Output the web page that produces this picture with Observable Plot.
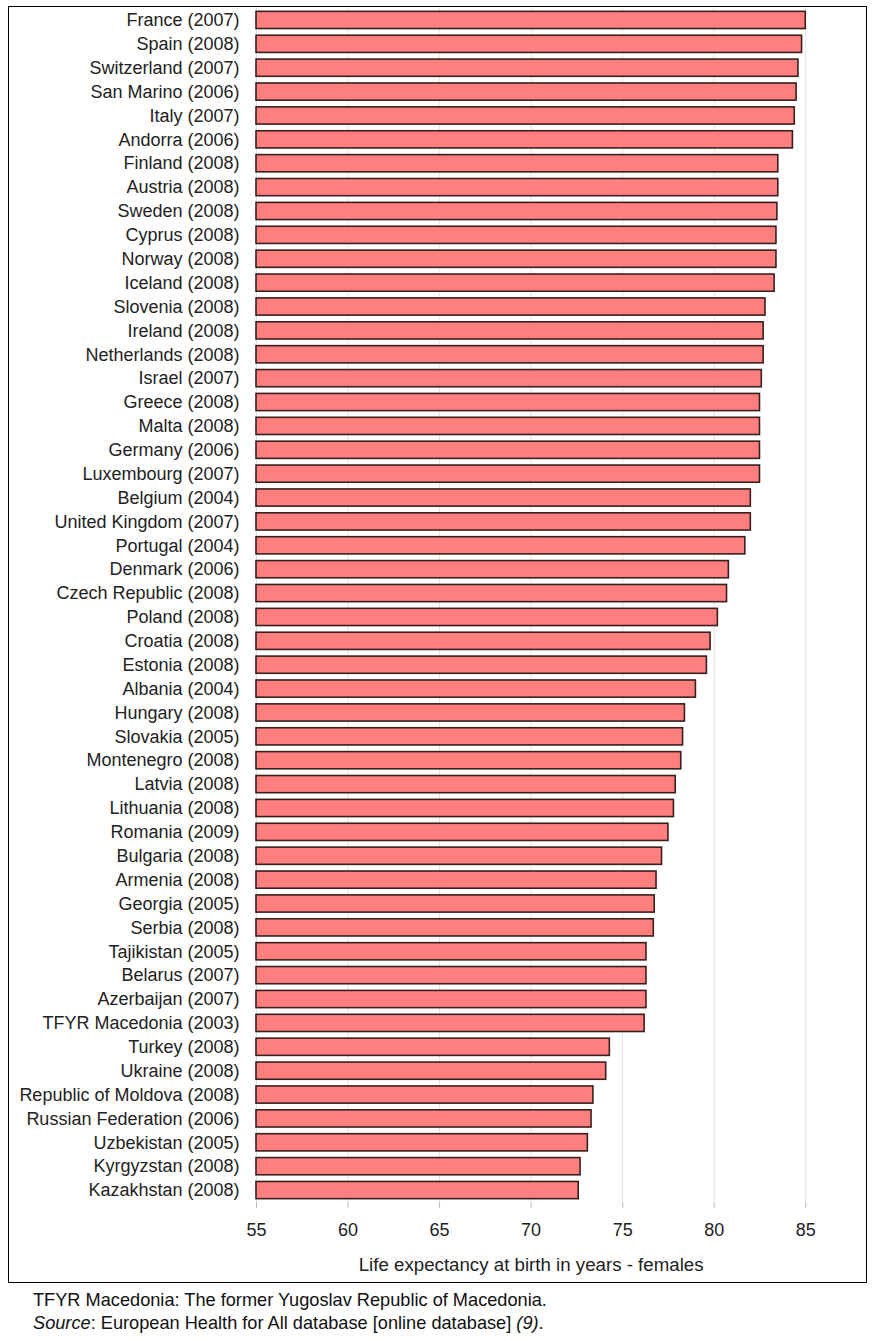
<!DOCTYPE html>
<html>
<head>
<meta charset="utf-8">
<script src="https://cdn.jsdelivr.net/npm/d3@7"></script>
<script src="https://cdn.jsdelivr.net/npm/@observablehq/plot@0.6"></script>
<style>
  body { margin: 0; background: #fff; font-family: "Liberation Sans", Arial, sans-serif; }
  #wrap { position: relative; width: 875px; height: 1341px; }
  #frame { position: absolute; left: 8px; top: 6px; width: 857px; height: 1275px; border: 1px solid #000; pointer-events: none; }
  #chart { position: absolute; left: 0; top: 0; }
  .cap { position: absolute; left: 33px; font-size: 18.2px; line-height: 21px; color: #111; white-space: nowrap; }
</style>
</head>
<body>
<div id="wrap">
  <div id="chart"></div>
  <div id="frame"></div>
  <div class="cap" style="top:1290px">TFYR Macedonia: The former Yugoslav Republic of Macedonia.</div>
  <div class="cap" style="top:1313px"><i>Source</i>: European Health for All database [online database] <i>(9)</i>.</div>
</div>
<script>
const countries = [
  "France (2007)", "Spain (2008)", "Switzerland (2007)", "San Marino (2006)", "Italy (2007)",
  "Andorra (2006)", "Finland (2008)", "Austria (2008)", "Sweden (2008)", "Cyprus (2008)",
  "Norway (2008)", "Iceland (2008)", "Slovenia (2008)", "Ireland (2008)", "Netherlands (2008)",
  "Israel (2007)", "Greece (2008)", "Malta (2008)", "Germany (2006)", "Luxembourg (2007)",
  "Belgium (2004)", "United Kingdom (2007)", "Portugal (2004)", "Denmark (2006)", "Czech Republic (2008)",
  "Poland (2008)", "Croatia (2008)", "Estonia (2008)", "Albania (2004)", "Hungary (2008)",
  "Slovakia (2005)", "Montenegro (2008)", "Latvia (2008)", "Lithuania (2008)", "Romania (2009)",
  "Bulgaria (2008)", "Armenia (2008)", "Georgia (2005)", "Serbia (2008)", "Tajikistan (2005)",
  "Belarus (2007)", "Azerbaijan (2007)", "TFYR Macedonia (2003)", "Turkey (2008)", "Ukraine (2008)",
  "Republic of Moldova (2008)", "Russian Federation (2006)", "Uzbekistan (2005)", "Kyrgyzstan (2008)", "Kazakhstan (2008)"
];
const lifeExpectancy = [
  85.0, 84.8, 84.6, 84.5, 84.4,
  84.3, 83.5, 83.5, 83.45, 83.4,
  83.4, 83.3, 82.8, 82.7, 82.7,
  82.6, 82.5, 82.5, 82.5, 82.5,
  82.0, 82.0, 81.7, 80.8, 80.7,
  80.2, 79.8, 79.6, 79.0, 78.4,
  78.3, 78.2, 77.9, 77.8, 77.5,
  77.15, 76.85, 76.75, 76.7, 76.3,
  76.3, 76.3, 76.2, 74.3, 74.1,
  73.4, 73.3, 73.1, 72.7, 72.6
];
const xTicks = [55, 60, 65, 70, 75, 80, 85];
const xLabel = "Life expectancy at birth in years - females";

const data = countries.map((c, i) => ({country: c, value: lifeExpectancy[i]}));

const chart = Plot.plot({
  width: 875,
  height: 1280,
  marginLeft: 256,
  marginRight: 13,
  marginTop: 8,
  marginBottom: 78,
  style: {fontFamily: "'Liberation Sans', Arial, sans-serif", fontSize: "17px", color: "#222", background: "transparent"},
  x: {domain: [55, 88.1], ticks: xTicks, label: null},
  y: {domain: countries, paddingInner: 0.28, paddingOuter: 0.14, label: null},
  marks: [
    Plot.gridX(xTicks.slice(1), {stroke: "#e4e4e4", strokeOpacity: 1, strokeWidth: 1}),
    Plot.ruleX([55], {stroke: "#d8e4ea", strokeWidth: 1}),
    Plot.barX(data, {x1: 55, x2: "value", y: "country", fill: "#ff7f7f", stroke: "#3a1f1f", strokeWidth: 1.6}),
    Plot.ruleY([0], {frameAnchor: "bottom", stroke: "#aaa"}),
    Plot.axisX({ticks: xTicks, tickSize: 6, stroke: "#bbb", tickPadding: 15, fontSize: 18, fill: "#222", label: null}),
    Plot.axisY({tickSize: 0, tickPadding: 17, fontSize: 18, fill: "#222", label: null}),
    Plot.text([xLabel], {x: 70, frameAnchor: "bottom", dy: 68, fontSize: 18.7, fill: "#222", text: d => d})
  ]
});
document.getElementById("chart").appendChild(chart);
</script>
</body>
</html>
